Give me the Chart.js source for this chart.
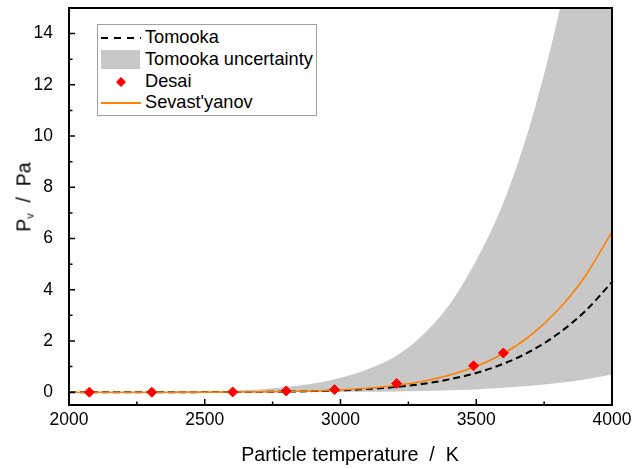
<!DOCTYPE html>
<html>
<head>
<meta charset="utf-8">
<script src="https://cdn.jsdelivr.net/npm/chart.js@4/dist/chart.umd.min.js"></script>
<style>
  body { margin: 0; background: #fff; font-family: "Liberation Sans", Arial, sans-serif; }
  #wrap { position: relative; width: 642px; height: 469px; }
  #ytitle {
    position: absolute; left: 24px; top: 197px; white-space: pre;
    font-size: 19.5px; color: #000;
    transform: translate(-50%, -50%) rotate(-90deg);
  }
  #ytitle sub { font-size: 11px; vertical-align: -3px; }
  #xtitle {
    position: absolute; left: 350px; top: 454px; white-space: pre;
    font-size: 19.7px; color: #000;
    transform: translate(-50%, -50%);
  }
  #legend {
    position: absolute; left: 97px; top: 24px; width: 218px; height: 90px;
    border: 1px solid #a0a0a0; background: #fff;
  }
  .row { position: absolute; left: 0; height: 22px; width: 218px; }
  .row svg { position: absolute; left: 2px; top: 0; }
  .row span { position: absolute; left: 47px; top: 0px; font-size: 18.2px; line-height: 21px; color: #000; }
</style>
</head>
<body>
<div id="wrap">
  <canvas id="vapourChart"></canvas>
  <div id="ytitle">P<sub>v</sub>  /  Pa</div>
  <div id="xtitle">Particle temperature  /  K</div>
  <div id="legend">
    <div class="row" style="top:2px">
      <svg width="42" height="22"><line x1="1" y1="11" x2="41" y2="11" stroke="#000" stroke-width="2" stroke-dasharray="7,6"/></svg>
      <span>Tomooka</span>
    </div>
    <div class="row" style="top:24px">
      <svg width="42" height="22"><rect x="1" y="1" width="39" height="19" fill="#c8c8c8"/></svg>
      <span>Tomooka uncertainty</span>
    </div>
    <div class="row" style="top:46px">
      <svg width="42" height="22"><polygon points="21,6 26,11 21,16 16,11" fill="#ff0000"/></svg>
      <span>Desai</span>
    </div>
    <div class="row" style="top:67px">
      <svg width="42" height="22"><line x1="1" y1="11" x2="41" y2="11" stroke="#ff8000" stroke-width="2"/></svg>
      <span>Sevast'yanov</span>
    </div>
  </div>
</div>
<script>
// temperatures (K) the curves were read at
const temps = [2000, 2100, 2200, 2300, 2400, 2500, 2600, 2700, 2800, 2900, 3000,
               3100, 3200, 3300, 3400, 3500, 3600, 3700, 3800, 3900, 4000];

// vapour pressure readings (Pa)
const tomooka = [0, 0, 0, 0.001, 0.001, 0.003, 0.005, 0.011, 0.023, 0.042, 0.073,
                 0.125, 0.2, 0.32, 0.5, 0.75, 1.11, 1.6, 2.27, 3.15, 4.3];
const tomookaUpper = [0.001, 0.002, 0.004, 0.008, 0.015, 0.027, 0.055, 0.11, 0.2, 0.34, 0.56,
                      0.9, 1.38, 2.2, 3.4, 5.15, 7.4, 10.5, 14.6, 19.9, 26.6];
const tomookaLower = [0, 0, 0, 0, 0, 0, 0.001, 0.002, 0.003, 0.005, 0.01,
                      0.017, 0.03, 0.047, 0.075, 0.11, 0.17, 0.25, 0.36, 0.5, 0.69];
const sevastyanov = [0, 0, 0, 0, 0.001, 0.003, 0.006, 0.013, 0.026, 0.049, 0.088,
                     0.153, 0.26, 0.42, 0.66, 1.01, 1.51, 2.22, 3.2, 4.51, 6.26];

const desaiT = [2075, 2305, 2603, 2800, 2978, 3207, 3490, 3600];
const desaiP = [0.0, 0.0, 0.01, 0.05, 0.1, 0.34, 1.03, 1.53];

const xTicks = [2000, 2500, 3000, 3500, 4000];
const xMinor = [2250, 2750, 3250, 3750];
const yTicks = [0, 2, 4, 6, 8, 10, 12, 14];
const yMinor = [1, 3, 5, 7, 9, 11, 13];

function pts(xs, ys) {
  return xs.map((x, i) => ({ x: x, y: ys[i] }));
}

// inward ticks + closed frame, like the original plot
const frame = {
  id: 'frame',
  afterDraw(chart) {
    const ctx = chart.ctx;
    const a = chart.chartArea;
    const xs = chart.scales.x, ys = chart.scales.y;
    ctx.save();
    ctx.strokeStyle = '#000';
    ctx.lineWidth = 1.5;
    ctx.beginPath();
    xTicks.forEach(v => { const p = xs.getPixelForValue(v); ctx.moveTo(p, a.bottom); ctx.lineTo(p, a.bottom - 6); });
    xMinor.forEach(v => { const p = xs.getPixelForValue(v); ctx.moveTo(p, a.bottom); ctx.lineTo(p, a.bottom - 3.5); });
    yTicks.forEach(v => { const p = ys.getPixelForValue(v); ctx.moveTo(a.left, p); ctx.lineTo(a.left + 6, p); });
    yMinor.forEach(v => { const p = ys.getPixelForValue(v); ctx.moveTo(a.left, p); ctx.lineTo(a.left + 3.5, p); });
    ctx.stroke();
    ctx.lineWidth = 2;
    ctx.strokeRect(a.left, a.top, a.right - a.left, a.bottom - a.top);
    ctx.restore();
  }
};

const font = { family: '"Liberation Sans", Arial, sans-serif', size: 17.5 };

new Chart(document.getElementById('vapourChart'), {
  type: 'line',
  data: {
    datasets: [
      {
        label: 'Desai',
        data: pts(desaiT, desaiP),
        showLine: false,
        pointStyle: 'rectRot',
        pointRadius: 5,
        pointBackgroundColor: '#ff0000',
        pointBorderColor: '#ff0000',
        pointBorderWidth: 1,
        order: 0
      },
      {
        label: "Sevast'yanov",
        data: pts(temps, sevastyanov),
        borderColor: '#ff8000',
        borderWidth: 1.6,
        pointRadius: 0,
        cubicInterpolationMode: 'monotone',
        fill: false,
        order: 1
      },
      {
        label: 'Tomooka',
        data: pts(temps, tomooka),
        borderColor: '#000',
        borderWidth: 2,
        borderDash: [7, 4],
        pointRadius: 0,
        cubicInterpolationMode: 'monotone',
        fill: false,
        order: 2
      },
      {
        label: 'Tomooka uncertainty',
        data: pts(temps, tomookaUpper),
        borderWidth: 0,
        borderColor: 'rgba(0,0,0,0)',
        backgroundColor: '#c8c8c8',
        pointRadius: 0,
        cubicInterpolationMode: 'monotone',
        fill: '+1',
        order: 3
      },
      {
        label: 'lower',
        data: pts(temps, tomookaLower),
        borderWidth: 0,
        borderColor: 'rgba(0,0,0,0)',
        pointRadius: 0,
        cubicInterpolationMode: 'monotone',
        fill: false,
        order: 4
      }
    ]
  },
  options: {
    responsive: true,
    maintainAspectRatio: false,
    animation: false,
    layout: { padding: { top: 8, right: 30, left: 0, bottom: 0 } },
    plugins: {
      legend: { display: false },
      tooltip: { enabled: false }
    },
    scales: {
      x: {
        type: 'linear',
        min: 2000,
        max: 4000,
        grid: { display: false },
        border: { display: false },
        afterBuildTicks: s => { s.ticks = xTicks.map(v => ({ value: v })); },
        afterFit: s => { s.height = 64; s.paddingLeft = 0; s.paddingRight = 0; },
        ticks: { color: '#000', font: font, padding: -3, maxRotation: 0, callback: v => String(v) }
      },
      y: {
        min: -0.5,
        max: 15,
        grid: { display: false },
        border: { display: false },
        afterBuildTicks: s => { s.ticks = yTicks.map(v => ({ value: v })); },
        afterFit: s => { s.width = 69; s.paddingTop = 0; s.paddingBottom = 0; },
        ticks: { color: '#000', font: font, padding: 8 }
      }
    }
  },
  plugins: [frame]
});
</script>
</body>
</html>
